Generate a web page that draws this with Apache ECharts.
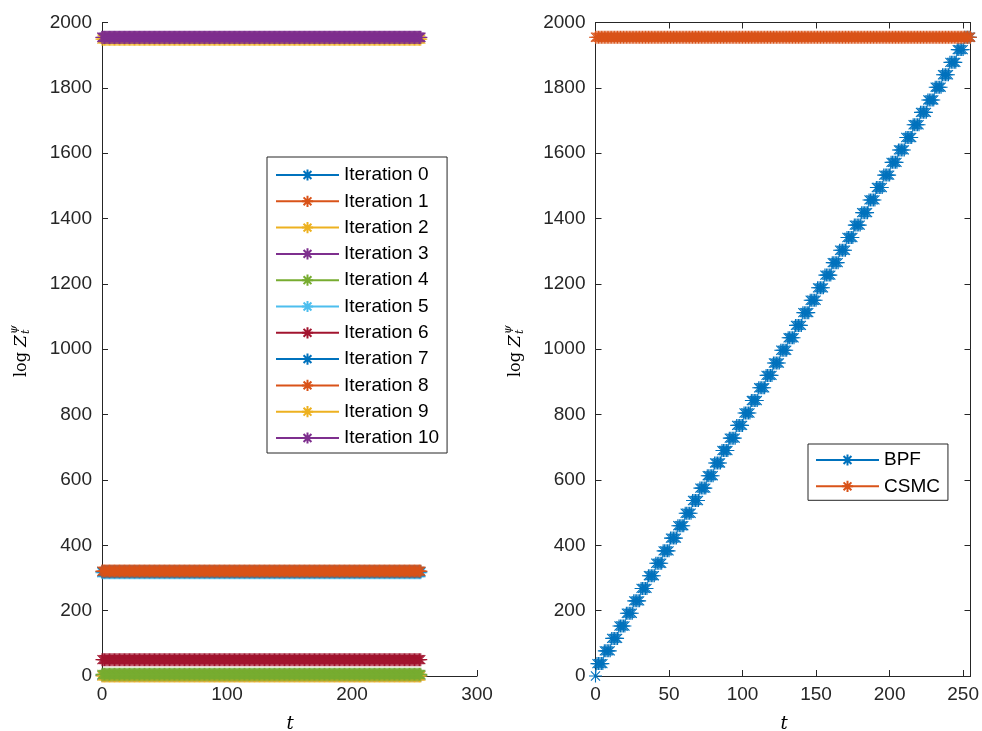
<!DOCTYPE html>
<html>
<head>
<meta charset="utf-8">
<script src="https://cdn.jsdelivr.net/npm/echarts@6/dist/echarts.min.js"></script>
<style>
  html, body { margin: 0; padding: 0; background: #fff; }
  #main { width: 982px; height: 731px; }
</style>
</head>
<body>
<div id="main"></div>
<script>
// time steps 0..255
var tSteps = [];
for (var i = 0; i <= 255; i++) tSteps.push(i);

var iterNames = ['Iteration 0', 'Iteration 1', 'Iteration 2', 'Iteration 3', 'Iteration 4',
  'Iteration 5', 'Iteration 6', 'Iteration 7', 'Iteration 8', 'Iteration 9', 'Iteration 10'];
var iterLevels = [2, 319, 0, 1955, 5, 316, 50, 319, 321, 1949, 1954];

// right panel: BPF rises in blocks of 5 steps, CSMC is flat
var bpfBlocks = [0, 38, 77, 115, 153, 192, 230, 268, 307, 345, 383, 422, 460, 498, 537, 575,
  613, 652, 690, 728, 767, 805, 843, 882, 920, 958, 997, 1035, 1073, 1112, 1150, 1188,
  1227, 1265, 1303, 1342, 1380, 1418, 1457, 1495, 1533, 1572, 1610, 1648, 1687, 1725,
  1763, 1802, 1840, 1878, 1917, 1955];
var csmcLevel = 1955;

var leftXTicks = [0, 100, 200, 300];
var rightXTicks = [0, 50, 100, 150, 200, 250];

var colors = ['#0072BD', '#D95319', '#EDB120', '#7E2F8E', '#77AC30', '#4DBEEE', '#A2142F'];
var star = 'path://M5,0L5,10M0,5L10,5M1.5,1.5L8.5,8.5M8.5,1.5L1.5,8.5';
var axisCol = '#262626';
var font = 'Liberation Sans, Arial, sans-serif';

function mkSeries(name, color, data, xi, yi) {
  return {
    name: name, type: 'line', xAxisIndex: xi, yAxisIndex: yi,
    data: data, symbol: star, symbolSize: 13, showSymbol: true,
    clip: false, animation: false,
    lineStyle: { color: color, width: 0.8 },
    itemStyle: { color: color, borderColor: color, borderWidth: 1.1 }
  };
}

var series = [];
iterNames.forEach(function (n, k) {
  var lvl = iterLevels[k];
  series.push(mkSeries(n, colors[k % 7], tSteps.map(function (t) { return [t, lvl]; }), 0, 0));
});
var bpf = tSteps.map(function (t) { return [t, bpfBlocks[Math.ceil(t / 5)]]; });
series.push(mkSeries('BPF', colors[0], bpf, 1, 1));
series.push(mkSeries('CSMC', colors[1], tSteps.map(function (t) { return [t, csmcLevel]; }), 1, 1));

function xAx(gi, max, interval, ticks, pos, labels) {
  return {
    type: 'value', gridIndex: gi, min: 0, max: max, interval: interval, position: pos,
    axisLine: { show: true, onZero: false, lineStyle: { color: axisCol, width: 1 } },
    axisTick: { show: true, inside: true, length: 6, lineStyle: { color: axisCol } },
    axisLabel: {
      show: labels, color: axisCol, fontSize: 19, fontFamily: font, margin: 9,
      formatter: function (v) { return ticks.indexOf(v) >= 0 ? String(v) : ''; }
    },
    splitLine: { show: false }
  };
}
function yAx(gi, pos, labels) {
  return {
    type: 'value', gridIndex: gi, min: 0, max: 2000, interval: 200, position: pos,
    axisLine: { show: true, onZero: false, lineStyle: { color: axisCol, width: 1 } },
    axisTick: { show: true, inside: true, length: 6, lineStyle: { color: axisCol } },
    axisLabel: {
      show: labels, color: axisCol, fontSize: 19, fontFamily: font, margin: 10,
      formatter: function (v) { return String(v); }
    },
    splitLine: { show: false }
  };
}

function yTitle(cx, by) {
  var s = { fill: '#000', fontFamily: 'DejaVu Serif, Liberation Serif, serif', verticalAlign: 'middle' };
  return {
    type: 'group', x: cx, y: by, rotation: Math.PI / 2,
    children: [
      { type: 'text', x: 0, y: 0, style: Object.assign({ text: 'log', fontSize: 16 }, s) },
      { type: 'text', x: 30, y: 0, style: Object.assign({ text: 'Z', fontSize: 17, fontStyle: 'italic' }, s) },
      { type: 'text', x: 43, y: 4, style: Object.assign({ text: 't', fontSize: 11, fontStyle: 'italic' }, s) },
      { type: 'text', x: 43, y: -8, style: Object.assign({ text: 'ψ', fontSize: 11, fontStyle: 'italic' }, s) }
    ]
  };
}
function xTitle(cx) {
  return {
    type: 'text', x: cx, y: 724,
    style: { text: 't', fontSize: 18, fontStyle: 'italic', fill: '#000', align: 'center', verticalAlign: 'middle',
      fontFamily: 'DejaVu Serif, Liberation Serif, serif' }
  };
}

var legendBase = {
  orient: 'vertical', itemWidth: 63, itemHeight: 14, itemGap: 6.3,
  backgroundColor: '#fff', borderColor: axisCol, borderWidth: 1,
  textStyle: { color: '#000', fontSize: 19, fontFamily: font, lineHeight: 20 },
  selectedMode: false
};

var chart = echarts.init(document.getElementById('main'));
chart.setOption({
  animation: false,
  grid: [
    { left: 102, top: 22.5, width: 375, height: 653.5 },
    { left: 595.5, top: 22.5, width: 376, height: 653.5 }
  ],
  xAxis: [
    xAx(0, 300, 100, leftXTicks, 'bottom', true),
    xAx(1, 255, 50, rightXTicks, 'bottom', true),
    xAx(1, 255, 50, rightXTicks, 'top', false)
  ],
  yAxis: [
    yAx(0, 'left', true),
    yAx(1, 'left', true),
    yAx(1, 'right', false)
  ],
  legend: [
    Object.assign({}, legendBase, { data: iterNames, left: 267, top: 157, padding: [8, 8, 5, 8] }),
    Object.assign({}, legendBase, { data: ['BPF', 'CSMC'], left: 808, top: 444, padding: [6, 8, 4, 7] })
  ],
  graphic: [yTitle(22, 377), yTitle(516, 377), xTitle(290), xTitle(784)],
  series: series
});
</script>
</body>
</html>
